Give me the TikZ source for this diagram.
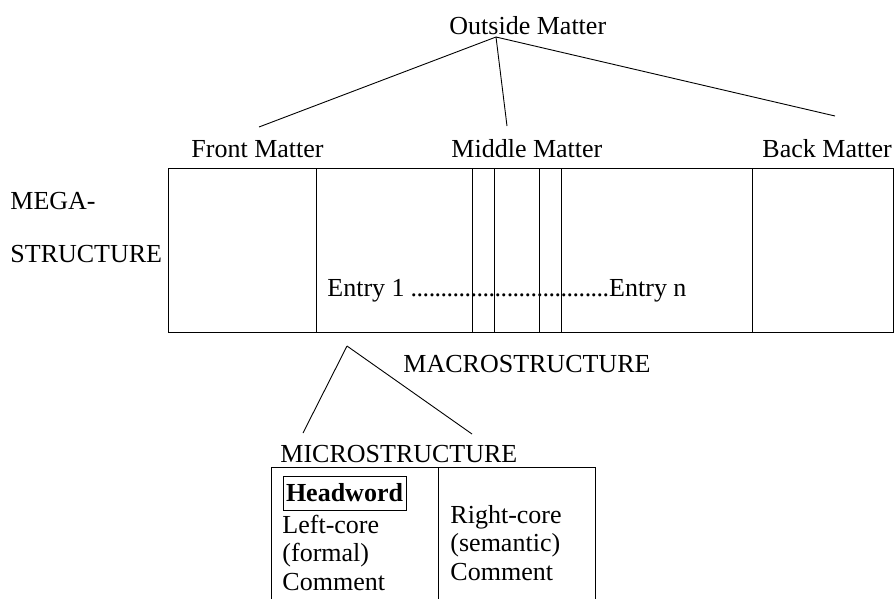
\documentclass[tikz,border=0pt]{standalone}
\usepackage{fontspec}
\setmainfont{Liberation Serif}
\begin{document}
\begin{tikzpicture}[x=1pt,y=-1pt,line width=0.9pt,
  lbl/.style={inner sep=0pt,anchor=base west,font=\fontsize{26}{28}\selectfont},
  hw/.style={draw,inner sep=0pt,minimum width=123pt,minimum height=34pt,font=\fontsize{26}{28}\selectfont\bfseries}]
\useasboundingbox (0,0) rectangle (894,598);
% top labels
\node[lbl] (outside) at (449,34) {Outside Matter};
\node[lbl] (front) at (191,157) {Front Matter};
\node[lbl] (middle) at (451,157) {Middle Matter};
\node[lbl] (back) at (762,157) {Back Matter};
\coordinate (apex) at (496,37);
\coordinate (fmend) at (259,127);
\coordinate (mmend) at (507,126);
\coordinate (bmend) at (835,116);
\draw (apex) -- (fmend);
\draw (apex) -- (mmend);
\draw (apex) -- (bmend);
% megastructure box
\draw (168,168) rectangle (893,332);
\foreach \xx in {316,472,494,539,561,752} \draw (\xx,168) -- (\xx,332);
\node[lbl] (mega) at (10,209) {MEGA-};
\node[lbl] (struct) at (10,262) {STRUCTURE};
\node[lbl] (entry) at (327,296) {Entry 1 \xleaders\hbox to 6pt{\hss.}\hskip 198pt\relax Entry n};
% macro
\node[lbl] (macro) at (403,372) {MACROSTRUCTURE};
\coordinate (apex2) at (347,346);
\coordinate (leftend) at (303,433);
\coordinate (rightend) at (472,434);
\draw (apex2) -- (leftend);
\draw (apex2) -- (rightend);
% micro
\node[lbl] (micro) at (280,462) {MICROSTRUCTURE};
\draw (271,620) -- (271,467) -- (595,467) -- (595,620);
\draw (438,467) -- (438,620);
\node[hw] (head) at (344.5,493) {Headword};
\node[lbl] (l1) at (282,533) {Left-core};
\node[lbl] (l2) at (282,561.5) {(formal)};
\node[lbl] (l3) at (282,590) {Comment};
\node[lbl] (r1) at (450,523) {Right-core};
\node[lbl] (r2) at (450,551.5) {(semantic)};
\node[lbl] (r3) at (450,580) {Comment};
\end{tikzpicture}
\end{document}
